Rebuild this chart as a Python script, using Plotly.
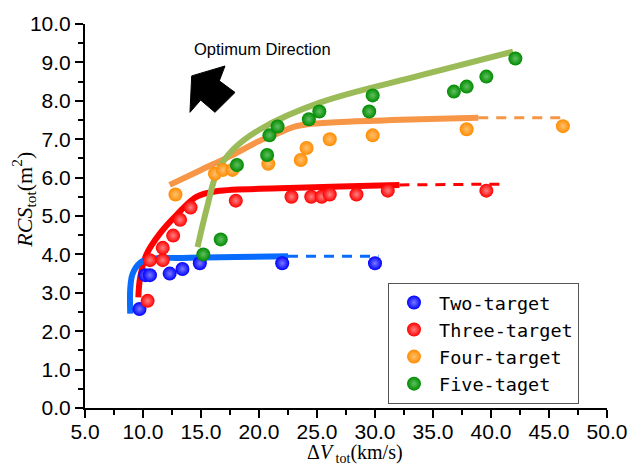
import plotly.graph_objects as go

# ---------------- data ----------------
two_x = [9.7, 10.2, 10.6, 12.3, 13.4, 14.9, 22.0, 30.0]
two_y = [2.58, 3.46, 3.46, 3.50, 3.62, 3.77, 3.77, 3.77]

three_x = [10.4, 10.6, 11.7, 11.7, 12.6, 13.2, 14.1, 18.0, 22.8, 24.5, 25.4, 26.1, 28.4, 31.1, 39.6]
three_y = [2.79, 3.85, 3.85, 4.17, 4.49, 4.90, 5.22, 5.40, 5.50, 5.50, 5.50, 5.56, 5.56, 5.66, 5.66]

four_x = [12.8, 16.2, 16.9, 17.7, 20.8, 23.6, 24.1, 26.1, 29.8, 37.9, 46.2]
four_y = [5.56, 6.10, 6.20, 6.20, 6.36, 6.46, 6.77, 7.00, 7.10, 7.26, 7.34]

five_x = [15.2, 16.7, 18.1, 20.7, 20.9, 21.6, 24.3, 25.2, 29.5, 29.8, 36.8, 37.9, 39.6, 42.1]
five_y = [4.00, 4.39, 6.33, 6.59, 7.10, 7.33, 7.52, 7.72, 7.72, 8.14, 8.24, 8.37, 8.63, 9.10]

# fitted trend curves (solid) and extrapolations (dashed)
two_fit_x = [8.9, 8.9, 9.1, 9.7, 10.6, 14.0, 18.0, 22.5]
two_fit_y = [2.46, 3.10, 3.49, 3.77, 3.88, 3.91, 3.93, 3.95]
two_ext_x = [22.5, 30.3]
two_ext_y = [3.95, 3.95]

three_fit_x = [9.6, 9.75, 10.3, 11.5, 12.9, 14.6, 16.4, 21.8, 27.0, 32.1]
three_fit_y = [2.88, 3.39, 4.00, 4.56, 5.03, 5.50, 5.65, 5.72, 5.77, 5.81]
three_ext_x = [32.1, 40.8]
three_ext_y = [5.81, 5.83]

four_fit_x = [12.3, 15.0, 17.8, 20.0, 21.6, 23.0, 24.5, 28.0, 33.9, 38.9]
four_fit_y = [5.81, 6.20, 6.60, 6.95, 7.15, 7.32, 7.40, 7.46, 7.52, 7.56]
four_ext_x = [38.9, 46.4]
four_ext_y = [7.56, 7.56]

five_fit_x = [14.7, 15.5, 16.4, 17.8, 20.1, 25.3, 33.9, 41.9]
five_fit_y = [4.19, 5.20, 6.15, 6.74, 7.26, 7.96, 8.66, 9.28]

names = ["Two-target", "Three-target", "Four-target", "Five-taget"]
marker_colors = ["#0000FF", "#FF0000", "#FF8C00", "#008A00"]
marker_lights = ["#7A7AFF", "#FF8080", "#FFC070", "#60C060"]
line_colors = ["#0A6CFF", "#FF0000", "#F79646", "#9BBB59"]

# ---------------- figure ----------------
W, H = 640, 470
L, R, T, B = 85, 33, 21, 62
pw, ph = W - L - R, H - T - B


def px2paper(x, y):
    return (x - L) / pw, (H - B - y) / ph


fig = go.Figure()

fits = [(two_fit_x, two_fit_y, two_ext_x, two_ext_y),
        (three_fit_x, three_fit_y, three_ext_x, three_ext_y),
        (four_fit_x, four_fit_y, four_ext_x, four_ext_y),
        (five_fit_x, five_fit_y, None, None)]
order = [2, 1, 0, 3]
for i in order:
    fx, fy, ex, ey = fits[i]
    if ex is not None:
        fig.add_trace(go.Scatter(x=ex, y=ey, mode="lines", showlegend=False,
                                 hoverinfo="skip",
                                 line=dict(color=line_colors[i], width=3, dash="10px,8px")))
    fig.add_trace(go.Scatter(x=fx, y=fy, mode="lines", showlegend=False,
                             hoverinfo="skip", line_shape="spline",
                             line=dict(color=line_colors[i], width=6)))

pts = [(two_x, two_y), (three_x, three_y), (four_x, four_y), (five_x, five_y)]
for i, (xs, ys) in enumerate(pts):
    fig.add_trace(go.Scatter(
        x=xs, y=ys, mode="markers", name=names[i],
        marker=dict(size=14, color=marker_colors[i], line=dict(width=0),
                    gradient=dict(type="radial", color=marker_lights[i]))))

# arrow (Optimum Direction) as a block-arrow path
arrow_px = [(191.7, 73.3), (225, 63.3), (219.3, 78.3), (235, 90),
            (215, 110), (200.7, 97.7), (190, 110)]
pp = [px2paper(x, y) for x, y in arrow_px]
path = "M " + " L ".join(f"{x:.4f},{y:.4f}" for x, y in pp) + " Z"
fig.add_shape(type="path", xref="paper", yref="paper", path=path,
              fillcolor="black", line=dict(color="black", width=1))

ax, ay = px2paper(262.5, 46)
fig.add_annotation(x=ax, y=ay, xref="paper", yref="paper", showarrow=False,
                   xanchor="center", yanchor="middle",
                   text="Optimum Direction",
                   font=dict(family="Liberation Sans, Arial", size=16.5, color="black"))

tx, ty = px2paper(24, 198)
fig.add_annotation(x=tx, y=ty, xref="paper", yref="paper", showarrow=False,
                   xanchor="center", yanchor="middle", textangle=-90,
                   text="<i>RCS</i><sub>tot</sub>(m<sup>2</sup>)",
                   font=dict(family="Liberation Serif, Times New Roman", size=22, color="black"))

xx, xy = px2paper(355, 454)
fig.add_annotation(x=xx, y=xy, xref="paper", yref="paper", showarrow=False,
                   xanchor="center", yanchor="middle",
                   text="Δ<i>V</i><sub> tot</sub>(km/s)",
                   font=dict(family="Liberation Serif, Times New Roman", size=20, color="black"))

axis_common = dict(showgrid=False, zeroline=False, showline=True, linecolor="black",
                   linewidth=2, ticks="outside", ticklen=8, tickwidth=2, tickcolor="black",
                   tickfont=dict(family="Liberation Sans, Arial", size=21, color="black"),
                   tickformat=".1f")
fig.update_xaxes(range=[5, 50], dtick=5, tick0=5, ticklabelstandoff=-4,
                 minor=dict(ticks="outside", ticklen=5, tickwidth=2, dtick=2.5,
                            tickcolor="black", showgrid=False),
                 **axis_common)
fig.update_yaxes(range=[0, 10], dtick=1, tick0=0,
                 minor=dict(ticks="outside", ticklen=5, tickwidth=2, dtick=0.5,
                            tickcolor="black", showgrid=False),
                 **axis_common)

lx, ly = px2paper(388, 282)
fig.update_layout(
    width=W, height=H,
    margin=dict(l=L, r=R, t=T, b=B, pad=0),
    plot_bgcolor="white", paper_bgcolor="white",
    legend=dict(x=lx, y=ly, xanchor="left", yanchor="top", itemwidth=40,
                bordercolor="#555555", borderwidth=1, bgcolor="white",
                font=dict(family="DejaVu Sans Mono", size=18.5, color="black")),
)

fig.write_html("out.html")
